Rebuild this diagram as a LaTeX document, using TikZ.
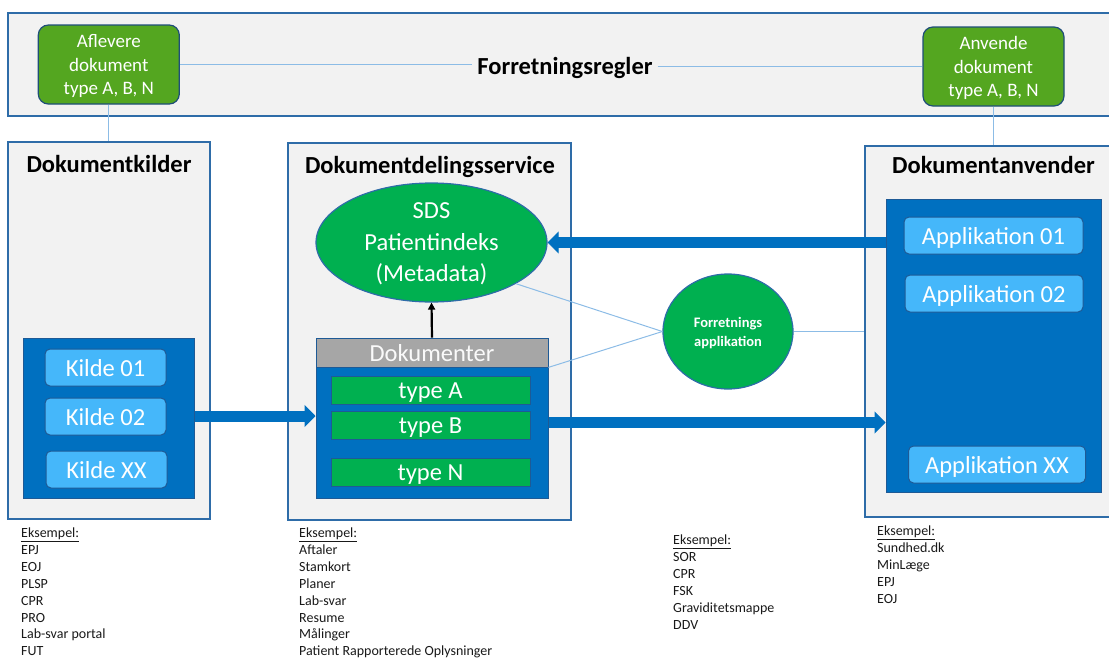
\documentclass[tikz,border=0pt]{standalone}
\usepackage{fontspec}
\setmainfont{Carlito}
\usetikzlibrary{arrows.meta,shapes.geometric}
\definecolor{panelfill}{RGB}{242,242,242}
\definecolor{panelline}{RGB}{46,108,168}
\definecolor{topgreen}{RGB}{84,166,32}
\definecolor{darkline}{RGB}{31,78,121}
\definecolor{sdsgreen}{RGB}{0,176,80}
\definecolor{innerblue}{RGB}{0,112,192}
\definecolor{innerline}{RGB}{30,90,150}
\definecolor{lightbox}{RGB}{69,183,250}
\definecolor{headgray}{RGB}{166,166,166}
\definecolor{connline}{RGB}{140,188,230}
\definecolor{txtwhite}{RGB}{250,250,250}
\newcommand\bigtxt{\fontsize{24.5}{31.5}\selectfont}
\begin{document}
\begin{tikzpicture}[x=1pt,y=-1pt,
  panel/.style={draw=panelline,line width=1.3pt,fill=panelfill,rectangle,inner sep=0pt},
  topbox/.style={draw=darkline,fill=topgreen,rounded corners=10pt,line width=1.2pt,minimum width=141pt,minimum height=79pt,inner sep=0pt,text=white,align=center,font=\fontsize{19}{23.5}\selectfont,text depth=0pt},
  paneltitle/.style={font=\bfseries\fontsize{24.5}{29}\selectfont,text=black,inner sep=0pt,anchor=base},
  innerbox/.style={draw=innerline,fill=innerblue,line width=1pt,inner sep=0pt},
  itembox/.style={draw=innerline,fill=lightbox,rounded corners=5pt,line width=1pt,inner sep=0pt,text=white,font=\bigtxt,minimum height=37pt,text height=17pt,text depth=0pt},
  typebox/.style={draw=innerline,fill=sdsgreen,line width=0.8pt,inner sep=0pt,text=white,font=\bigtxt,minimum width=199pt,minimum height=28pt,text height=17pt,text depth=0pt},
  conn/.style={draw=connline,line width=1pt},
  bigarrow/.style={draw=innerblue,line width=11pt,-{Triangle[length=11pt,width=22pt,line width=1pt]}},
  ex/.style={inner sep=0pt,anchor=base west,font=\fontsize{14}{16.9}\selectfont,text=black!90}
]
\useasboundingbox (0,0) rectangle (1109,659);
\clip (0,0) rectangle (1109,659);

% top bar
\node[panel,minimum width=1112pt,minimum height=103pt] (bar) at (564,64.5) {};
\node[topbox] (afl) at (108.8,64.5) {Aflevere\\dokument\\type A, B, N};
\node[topbox] (anv) at (993.5,66.5) {Anvende\\dokument\\type A, B, N};
\node[paneltitle,inner xsep=5pt] (regler) at (565,74) {Forretningsregler};
\draw[conn] (afl.east) -- (afl.east -| regler.west);
\draw[conn] (regler.east |- anv.west) -- (anv.west);

% panels
\node[panel,minimum width=202pt,minimum height=377pt] (kilder) at (109,330.5) {};
\node[panel,minimum width=283pt,minimum height=377pt] (dds) at (429.5,331.5) {};
\node[panel,minimum width=255pt,minimum height=371pt] (anvender) at (992.5,331.5) {};
\draw[conn] (afl.south) -- (afl.south |- kilder.north);
\draw[conn] (anv.south) -- (anv.south |- anvender.north);

\node[paneltitle] (kt) at (109,172.5) {Dokumentkilder};
\node[paneltitle] (dt) at (430,173) {Dokumentdelingsservice};
\node[paneltitle] (at) at (993.5,173.5) {Dokumentanvender};

% left panel content
\node[innerbox,minimum width=171pt,minimum height=160pt] (kinner) at (108.5,418) {};
\node[itembox,minimum width=121pt] (k1) at (105.5,367.5) {Kilde 01};
\node[itembox,minimum width=121pt] (k2) at (105.5,416.5) {Kilde 02};
\node[itembox,minimum width=121pt] (kx) at (106.5,469.5) {Kilde XX};

% middle panel content
\node[draw=panelline,fill=sdsgreen,line width=1.2pt,ellipse,inner sep=0pt,minimum width=231pt,minimum height=119pt,text=white,align=center,font=\bigtxt,text depth=0pt] (sds) at (431.5,242.5) {SDS\\Patientindeks\\(Metadata)};
\node[innerbox,minimum width=232pt,minimum height=160pt] (dokbody) at (432,418) {};
\node[draw=innerline,fill=headgray,line width=0.8pt,minimum width=232pt,minimum height=29pt,inner sep=0pt,text=txtwhite,font=\bigtxt,text height=17pt,text depth=0pt] (dokhead) at (432,352.5) {Dokumenter};
\node[typebox] (ta) at (430.5,390) {type A};
\node[typebox] (tb) at (430.5,425) {type B};
\node[typebox] (tn) at (430.5,472) {type N};
\draw[line width=2.2pt,-{Triangle[length=7pt,width=7pt]}] (dokhead.north) -- (sds.south);

% business application
\node[draw=panelline,fill=sdsgreen,line width=1.2pt,ellipse,inner sep=0pt,minimum width=130pt,minimum height=115pt,text=white,align=center,font=\bfseries\fontsize{14.5}{19}\selectfont,text depth=0pt] (fa) at (728,331.5) {Forretnings\\applikation};
\draw[conn] (sds.-26) -- (fa.west);
\draw[conn] (dokhead.south east) -- (fa.west);
\draw[conn] (fa.east) -- (fa.east -| anvender.west);

% right panel content
\node[innerbox,minimum width=215pt,minimum height=293pt] (ainner) at (993.5,345.5) {};
\node[itembox,minimum width=179pt] (a1) at (993.5,235.5) {Applikation 01};
\node[itembox,minimum width=178pt] (a2) at (994,293.5) {Applikation 02};
\node[itembox,minimum width=177pt] (ax) at (997,464.5) {Applikation XX};

% big arrows
\draw[bigarrow] ([yshift=2pt]kinner.east) -- ([yshift=2pt]dokbody.west);
\draw[bigarrow] ([yshift=-4.5pt]dokbody.east) -- ([yshift=-4.5pt]dokbody.east -| ainner.west);
\draw[bigarrow] (ainner.west |- sds.east) -- (sds.east);

% examples
\node[ex] (ex1) at (21,537.5) {\begin{tabular}[t]{@{}l@{}}\underline{Eksempel:}\\EPJ\\EOJ\\PLSP\\CPR\\PRO\\Lab-svar portal\\FUT\end{tabular}};
\node[ex] (ex2) at (299,537.5) {\begin{tabular}[t]{@{}l@{}}\underline{Eksempel:}\\Aftaler\\Stamkort\\Planer\\Lab-svar\\Resume\\Målinger\\Patient Rapporterede Oplysninger\end{tabular}};
\node[ex] (ex3) at (673,544.5) {\begin{tabular}[t]{@{}l@{}}\underline{Eksempel:}\\SOR\\CPR\\FSK\\Graviditetsmappe\\DDV\end{tabular}};
\node[ex] (ex4) at (877,535.5) {\begin{tabular}[t]{@{}l@{}}\underline{Eksempel:}\\Sundhed.dk\\MinLæge\\EPJ\\EOJ\end{tabular}};
\end{tikzpicture}
\end{document}
